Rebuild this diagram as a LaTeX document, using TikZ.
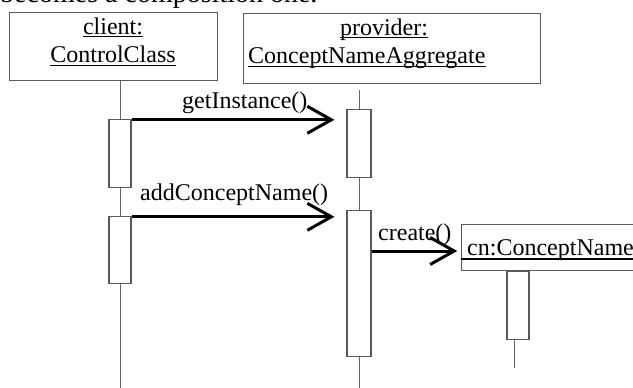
\documentclass[tikz,border=0pt]{standalone}
\usepackage{fontspec}
\setmainfont{Liberation Serif}
\usetikzlibrary{arrows.meta,calc}
\definecolor{boxgray}{gray}{0.35}
\definecolor{lifegray}{gray}{0.4}
\begin{document}
\begin{tikzpicture}[x=1pt,y=-1pt,
  box/.style={draw=boxgray, line width=1.2pt, fill=white, inner sep=0pt},
  act/.style={draw=boxgray, line width=1.2pt, fill=white, inner sep=0pt, minimum width=22pt},
  life/.style={draw=lifegray, line width=0.9pt},
  lbl/.style={font=\fontsize{24}{28}\selectfont, inner sep=0pt, text=black},
  ul/.style={line width=1.3pt, black},
  msg/.style={line width=3pt, black, -{Straight Barb[length=24pt,width=27pt]}}]
\useasboundingbox (0,0) rectangle (633,388);
\clip (0,0) rectangle (633,388);
% title (cut at the top)
\node[lbl, font=\fontsize{28}{30}\selectfont, anchor=base west] (title) at (0,2.5) {becomes a composition one.};
% object boxes
\node[box, minimum width=208pt, minimum height=68pt, anchor=north west] (client) at (9,12) {};
\node[box, minimum width=297pt, minimum height=70.5pt, anchor=north west] (provider) at (243,12.5) {};
\node[box, minimum width=200pt, minimum height=46pt, anchor=north west] (cnbox) at (460.7,224) {};
% box texts
\node[lbl, anchor=base] (t1) at (113,34.3) {client:};
\draw[ul] ([yshift=-2.5pt]t1.base west) -- ([yshift=-2.5pt]t1.base east);
\node[lbl, anchor=base] (t2) at (113,62.5) {ControlClass};
\draw[ul] ([yshift=-3.2pt]t2.base west) -- ([yshift=-3.2pt]t2.base east);
\node[lbl, anchor=base] (t3) at (384,35) {provider:};
\draw[ul] ([yshift=-2.7pt]t3.base west) -- ([yshift=-2.7pt]t3.base east);
\node[lbl, anchor=base west] (t4) at (248,63.5) {ConceptNameAggregate};
\draw[ul] ([yshift=-3.2pt]t4.base west) -- ([yshift=-3.2pt]t4.base east);
\node[lbl, anchor=base west] (t5) at (467,255) {cn:ConceptName};
\draw[line width=2pt, black] ([yshift=-4.3pt]cnbox.west |- t5.base) -- ([yshift=-4.3pt,xshift=20pt]t5.base east);
% activation boxes
\node[act, minimum height=68pt, anchor=north] (ca1) at (120,119) {};
\node[act, minimum height=67pt, anchor=north] (ca2) at (120,216) {};
\node[act, minimum width=24pt, minimum height=68pt, anchor=north] (pa1) at (359,109) {};
\node[act, minimum width=24pt, minimum height=146pt, anchor=north] (pa2) at (359,210) {};
\node[act, minimum height=68.5pt, anchor=north] (ka) at (518,270.5) {};
% lifelines
\coordinate (bottom) at (0,390);
\coordinate (ptop) at (359,90);
\coordinate (kbot) at (514,368);
\draw[life] (ca1.north |- client.south) -- (ca1.north);
\draw[life] (ca1.south) -- (ca2.north);
\draw[life] (ca2.south) -- (ca2.south |- bottom);
\draw[life] (ptop) -- (pa1.north);
\draw[life] (pa1.south) -- (pa2.north);
\draw[life] (pa2.south) -- (pa2.south |- bottom);
\draw[life] (kbot |- ka.south) -- (kbot);
% messages
\coordinate (m1) at ([yshift=-0.8pt]ca1.north east);
\draw[msg] (m1) -- ([xshift=-12pt]pa1.west |- m1);
\node[lbl, anchor=base west] (l1) at (182,108) {getInstance()};
\coordinate (m2) at ([yshift=-0.8pt]ca2.north east);
\draw[msg] (m2) -- ([xshift=-12pt]pa2.west |- m2);
\node[lbl, anchor=base west] (l2) at (140,200) {addConceptName()};
\coordinate (m3) at ([yshift=-41pt]pa2.north east);
\draw[msg, shorten >=3.5pt] (m3) -- (cnbox.west |- m3);
\node[lbl, anchor=base west] (l3) at (378,240) {create()};
\end{tikzpicture}
\end{document}
